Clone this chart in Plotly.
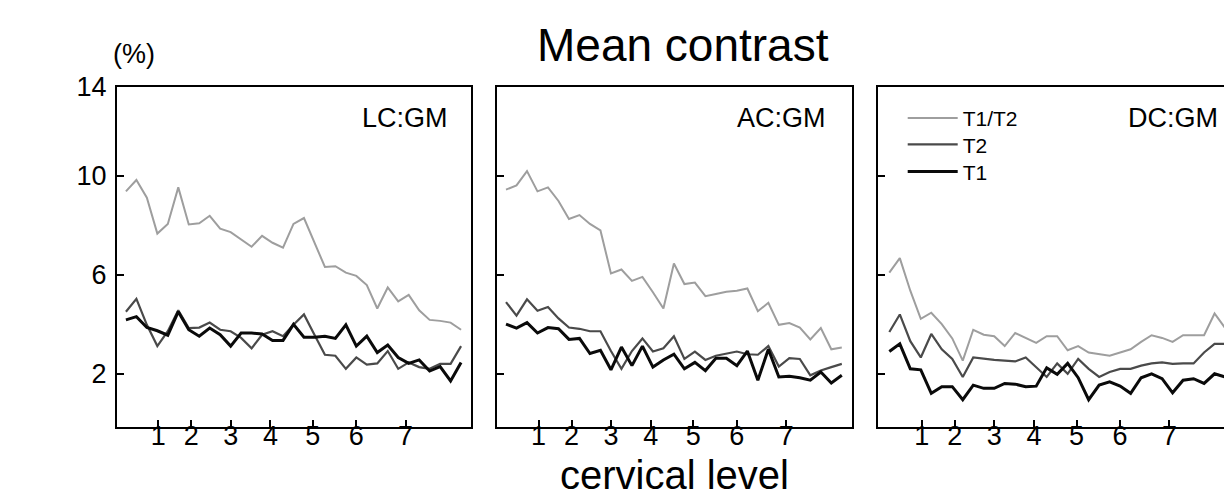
import plotly.graph_objects as go

# Slice index along the cord (33 axial slices, C1 -> C7)
slices = list(range(33))

# Cervical level tick positions (in slice units) and their labels
level_pos = [3.1, 6.25, 10.0, 13.8, 17.85, 22.0, 26.7]
level_labels = ["1", "2", "3", "4", "5", "6", "7"]

# Mean contrast (%) -- lateral column vs grey matter
lc_t1t2 = [9.38, 9.84, 9.12, 7.67, 8.06, 9.54, 8.04, 8.09, 8.39, 7.87, 7.73,
           7.43, 7.14, 7.58, 7.30, 7.10, 8.06, 8.30, 7.27, 6.32, 6.35, 6.09,
           5.96, 5.59, 4.64, 5.49, 4.93, 5.19, 4.57, 4.18, 4.14, 4.07, 3.78]
lc_t2 = [4.51, 5.03, 3.98, 3.12, 3.72, 4.57, 3.85, 3.87, 4.07, 3.78, 3.72,
         3.45, 3.03, 3.58, 3.72, 3.52, 3.98, 4.40, 3.58, 2.77, 2.73, 2.20,
         2.66, 2.37, 2.42, 2.92, 2.20, 2.46, 2.27, 2.20, 2.40, 2.40, 3.12]
lc_t1 = [4.18, 4.31, 3.87, 3.74, 3.56, 4.51, 3.78, 3.52, 3.85, 3.58, 3.12,
         3.65, 3.65, 3.61, 3.35, 3.35, 4.00, 3.48, 3.48, 3.52, 3.43, 3.98,
         3.12, 3.52, 2.86, 3.16, 2.66, 2.42, 2.56, 2.11, 2.29, 1.71, 2.46]

# anterior column vs grey matter
ac_t1t2 = [9.45, 9.62, 10.20, 9.38, 9.54, 8.99, 8.26, 8.42, 8.06, 7.80, 6.06,
           6.22, 5.76, 5.92, 5.30, 4.64, 6.46, 5.63, 5.69, 5.14, 5.23, 5.32,
           5.36, 5.45, 4.53, 4.87, 3.98, 4.05, 3.87, 3.39, 3.85, 2.99, 3.06]
ac_t2 = [4.90, 4.35, 5.01, 4.55, 4.70, 4.24, 3.87, 3.82, 3.72, 3.72, 2.92,
         2.20, 2.92, 3.43, 2.90, 3.03, 3.52, 2.60, 2.90, 2.56, 2.73, 2.82,
         2.90, 2.79, 2.77, 3.12, 2.29, 2.63, 2.60, 1.94, 2.13, 2.27, 2.40]
ac_t1 = [4.01, 3.85, 4.07, 3.65, 3.87, 3.82, 3.39, 3.43, 2.82, 2.95, 2.16,
         3.08, 2.33, 3.12, 2.27, 2.56, 2.79, 2.20, 2.46, 2.13, 2.63, 2.63,
         2.33, 2.92, 1.74, 2.99, 1.87, 1.90, 1.84, 1.74, 2.07, 1.63, 1.94]

# dorsal column vs grey matter
dc_t1t2 = [6.09, 6.68, 5.36, 4.22, 4.47, 4.01, 3.43, 2.53, 3.78, 3.58, 3.52,
           3.12, 3.65, 3.45, 3.25, 3.52, 3.52, 2.95, 3.12, 2.86, 2.79, 2.73,
           2.86, 2.99, 3.29, 3.56, 3.45, 3.29, 3.56, 3.56, 3.56, 4.44, 3.85]
dc_t2 = [3.69, 4.40, 3.32, 2.66, 3.61, 2.99, 2.60, 1.87, 2.66, 2.60, 2.56,
         2.53, 2.50, 2.66, 2.27, 1.87, 2.42, 2.00, 2.60, 2.20, 1.87, 2.07,
         2.20, 2.20, 2.33, 2.42, 2.46, 2.40, 2.42, 2.42, 2.86, 3.21, 3.21]
dc_t1 = [2.90, 3.21, 2.20, 2.16, 1.21, 1.48, 1.48, 0.95, 1.54, 1.41, 1.41,
         1.61, 1.58, 1.48, 1.50, 2.24, 1.98, 2.42, 1.84, 0.95, 1.54, 1.67,
         1.50, 1.21, 1.84, 2.00, 1.80, 1.23, 1.74, 1.80, 1.61, 2.00, 1.87]

panel_names = ["LC:GM", "AC:GM", "DC:GM"]
series_names = ["T1/T2", "T2", "T1"]
y_ticks = [2, 6, 10]
y_tick_labels = ["2", "6", "10", "14"]

W, H = 1224, 497
FONT = "Liberation Sans, Arial, Helvetica, sans-serif"


def px_x(p):
    return p / W


def px_y(p):
    return 1 - p / H


styles = {
    "T1/T2": dict(color="#9e9e9e", width=2.0),
    "T2": dict(color="#4a4a4a", width=2.2),
    "T1": dict(color="#0a0a0a", width=3.0),
}
legend_ids = {"T1/T2": "legend", "T2": "legend2", "T1": "legend3"}

panels = [
    (lc_t1t2, lc_t2, lc_t1),
    (ac_t1t2, ac_t2, ac_t1),
    (dc_t1t2, dc_t2, dc_t1),
]

fig = go.Figure()
for k, series in enumerate(panels):
    ax = "" if k == 0 else str(k + 1)
    for name, vals in zip(series_names, series):
        fig.add_trace(go.Scatter(
            x=slices, y=vals, mode="lines", name=name,
            line=styles[name],
            xaxis="x" + ax, yaxis="y" + ax,
            showlegend=(k == 2), legend=legend_ids[name],
        ))

# axis geometry (pixels in the 1224x497 canvas)
plot_top, plot_bottom = 74, 425
x_domains = [(116.7, 470.7), (497.3, 852.3), (878.3, 1224)]
x_ranges = [(-0.88, 32.92), (-0.83, 33.0), (-1.05, 31.9)]
y_range = (-0.16, 13.61)

LEGEND_FONT = 21
item_half = (LEGEND_FONT * 1.3 + 3) / 2 + 5
legend_rows = [105.7, 132.7, 160.7]


def legend_box(row_center):
    return dict(
        x=px_x(902.7), y=px_y(row_center - item_half),
        xanchor="left", yanchor="top",
        font=dict(size=LEGEND_FONT, family=FONT, color="black"),
        bgcolor="rgba(0,0,0,0)", itemwidth=50,
    )


layout = dict(
    width=W, height=H,
    margin=dict(l=0, r=0, t=0, b=0),
    paper_bgcolor="white", plot_bgcolor="white",
    font=dict(family=FONT, color="black"),
    showlegend=True,
    legend=legend_box(legend_rows[0]),
    legend2=legend_box(legend_rows[1]),
    legend3=legend_box(legend_rows[2]),
)

for k in range(3):
    ax = "" if k == 0 else str(k + 1)
    d0, d1 = x_domains[k]
    layout["xaxis" + ax] = dict(
        domain=[px_x(d0), px_x(d1)], range=list(x_ranges[k]),
        anchor="y" + ax,
        tickvals=level_pos, ticktext=level_labels,
        ticks="inside", ticklen=7, tickwidth=1.5, tickcolor="black",
        showline=True, linecolor="black", linewidth=1.6, mirror=True,
        showgrid=False, zeroline=False,
        tickfont=dict(size=27, family=FONT),
        ticklabelstandoff=-16,
    )
    layout["yaxis" + ax] = dict(
        domain=[px_y(plot_bottom), px_y(plot_top)], range=list(y_range),
        anchor="x" + ax,
        tickvals=y_ticks + [y_range[1]], ticktext=y_tick_labels,
        ticks="inside", ticklen=7, tickwidth=1.5, tickcolor="black",
        showline=True, linecolor="black", linewidth=1.6,
        mirror=(k < 2),
        showgrid=False, zeroline=False,
        showticklabels=(k == 0),
        tickfont=dict(size=27, family=FONT),
        ticklabelstandoff=3,
    )

fig.update_layout(**layout)

annotations = [
    dict(text="Mean contrast", x=px_x(682.5), y=px_y(31.4), font=dict(size=46)),
    dict(text="(%)", x=px_x(134), y=px_y(40), font=dict(size=27)),
    dict(text="cervical level", x=px_x(674.5), y=px_y(474.7), font=dict(size=40)),
]
label_right = [449.5, 828, 1219.5]
for name, xr in zip(panel_names, label_right):
    annotations.append(dict(text=name, x=px_x(xr), y=px_y(106.7),
                            xanchor="right", font=dict(size=27)))
for a in annotations:
    a.setdefault("xanchor", "center")
    a.update(xref="paper", yref="paper", yanchor="middle", showarrow=False)
    a["font"]["family"] = FONT
    a["font"]["color"] = "black"
fig.update_layout(annotations=annotations)

fig.write_html("out.html")
